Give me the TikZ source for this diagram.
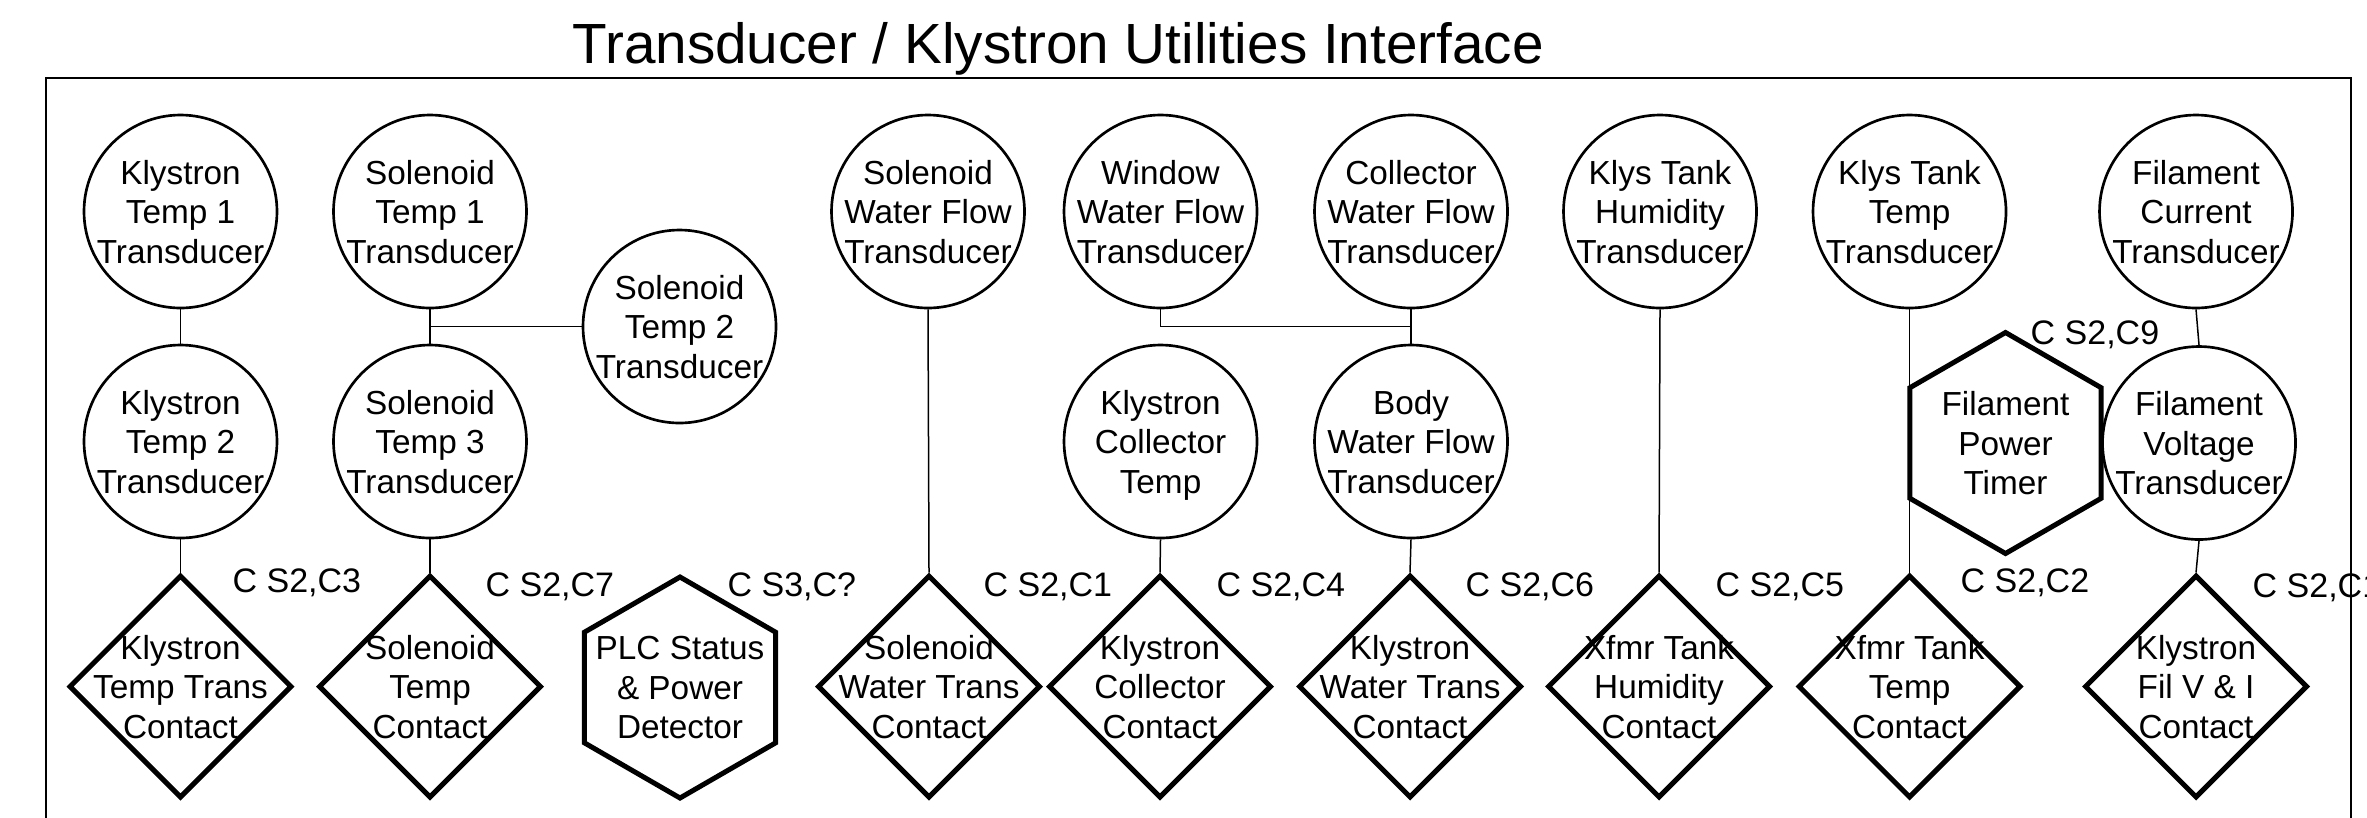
\documentclass[tikz,border=0pt]{standalone}
\usepackage{fontspec}
\setmainfont{Liberation Sans}
\usetikzlibrary{shapes.geometric,calc}
\begin{document}
\begin{tikzpicture}[x=0.3pt,y=-0.3pt,
  txt/.style={align=center,inner sep=0pt,text depth=0pt,font=\fontsize{10}{11.85}\selectfont},
  circ/.style={circle,draw,line width=0.8pt,minimum size=57.9pt,inner sep=0pt,label={[txt]center:{#1}}},
  dia/.style={diamond,draw,line width=1.5pt,minimum width=66.9pt,minimum height=66.9pt,inner sep=0pt,label={[txt]center:{#1}}},
  hexa/.style={regular polygon,regular polygon sides=6,shape border rotate=30,draw,line width=1.5pt,minimum size=66.3pt,inner sep=0pt,label={[txt]center:{#1}}},
  conn/.style={line width=0.45pt},
  tag/.style={anchor=base west,inner sep=0pt,font=\fontsize{10.2}{12}\selectfont},
  ttl/.style={anchor=base west,inner sep=0pt,font=\fontsize{17}{20}\selectfont},
]
\useasboundingbox (0,0) rectangle (2367,817);
\fill[white] (0,0) rectangle (2367,817);

\node[ttl] (title) at (572,63) {Transducer / Klystron Utilities Interface};
\draw[line width=0.7pt] (46,78) rectangle (2351,900);

% row 1 circles
\node[circ={Klystron\\Temp 1\\Transducer}] (kt1) at (180.5,211.5) {};
\node[circ={Solenoid\\Temp 1\\Transducer}] (st1) at (430,211.5) {};
\node[circ={Solenoid\\Water Flow\\Transducer}] (swf) at (928,211.5) {};
\node[circ={Window\\Water Flow\\Transducer}] (wwf) at (1160.5,211.5) {};
\node[circ={Collector\\Water Flow\\Transducer}] (cwf) at (1411,211.5) {};
\node[circ={Klys Tank\\Humidity\\Transducer}] (kth) at (1660,211.5) {};
\node[circ={Klys Tank\\Temp\\Transducer}] (ktt) at (1909.5,211.5) {};
\node[circ={Filament\\Current\\Transducer}] (fct) at (2196,211.5) {};

% middle
\node[circ={Solenoid\\Temp 2\\Transducer}] (st2) at (679.5,326.5) {};

% row 2 circles
\node[circ={Klystron\\Temp 2\\Transducer}] (kt2) at (180.5,441.5) {};
\node[circ={Solenoid\\Temp 3\\Transducer}] (st3) at (430,441.5) {};
\node[circ={Klystron\\Collector\\Temp}] (kct) at (1160.5,441.5) {};
\node[circ={Body\\Water Flow\\Transducer}] (bwf) at (1411,441.5) {};
\node[hexa={Filament\\Power\\Timer}] (fpt) at (2005.5,443) {};
\node[circ={Filament\\Voltage\\Transducer}] (fvt) at (2199,443) {};

% row 3 contacts
\node[dia={Klystron\\Temp Trans\\Contact}] (kc) at (180.5,686.5) {};
\node[dia={Solenoid\\Temp\\Contact}] (sc) at (430,686.5) {};
\node[hexa={PLC Status\\\& Power\\Detector}] (plc) at (680,687.5) {};
\node[dia={Solenoid\\Water Trans\\Contact}] (swc) at (929,686.5) {};
\node[dia={Klystron\\Collector\\Contact}] (kcc) at (1160,686.5) {};
\node[dia={Klystron\\Water Trans\\Contact}] (kwc) at (1410,686.5) {};
\node[dia={Xfmr Tank\\Humidity\\Contact}] (xhc) at (1659,686.5) {};
\node[dia={Xfmr Tank\\Temp\\Contact}] (xtc) at (1909.5,686.5) {};
\node[dia={Klystron\\Fil V \& I\\Contact}] (fvi) at (2196,686.5) {};

% tags
\node[tag] (t3) at (232,592) {C S2,C3};
\node[tag] (t7) at (485,596) {C S2,C7};
\node[tag] (t3q) at (727,596) {C S3,C?};
\node[tag] (t1a) at (983,596) {C S2,C1};
\node[tag] (t4) at (1216,596) {C S2,C4};
\node[tag] (t6) at (1465,596) {C S2,C6};
\node[tag] (t5) at (1715,596) {C S2,C5};
\node[tag] (t2) at (1960,592) {C S2,C2};
\node[tag] (t9) at (2030,344) {C S2,C9};
\node[tag] (t1b) at (2252,597) {C S2,C1};

% connectors
\draw[conn] (kt1.south) -- (kt2.north);
\draw[conn] (st1.south) -- (st3.north);
\draw[conn] (st1.south |- st2.west) -- (st2.west);
\draw[conn] (kt2.south) -- (kc.north);
\draw[conn] (st3.south) -- (sc.north);
\draw[conn] (swf.south) -- (swc.north);
\coordinate (j) at ($(cwf.south)!0.5!(bwf.north)$);
\draw[conn] (wwf.south) |- (j);
\draw[conn] (cwf.south) -- (bwf.north);
\draw[conn] (kct.south) -- (kcc.north);
\draw[conn] (bwf.south) -- (kwc.north);
\draw[conn] (kth.south) -- (xhc.north);
\draw[conn] (ktt.south) -- (xtc.north);
\draw[conn] (fct.south) -- (fvt.north);
\draw[conn] (fvt.south) -- (fvi.north);
\end{tikzpicture}
\end{document}
